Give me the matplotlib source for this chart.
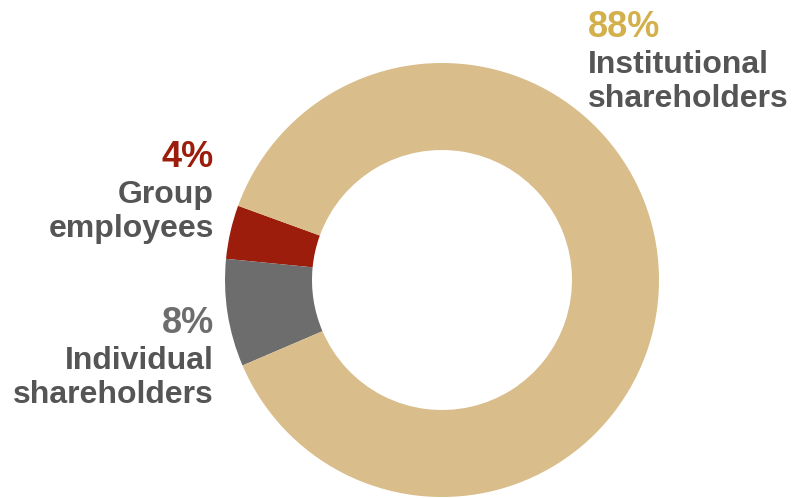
import matplotlib
matplotlib.use("Agg")
import matplotlib.pyplot as plt

# shareholder structure
labels = ["Group\nemployees", "Individual\nshareholders", "Institutional\nshareholders"]
shares = [4, 8, 88]
colors = ["#9C1D0B", "#6D6D6D", "#D9BD8A"]
pct_colors = ["#9C1D0B", "#6D6D6D", "#D4B04C"]
TEXT_GREY = "#555555"

plt.rcParams["font.family"] = ["Liberation Sans", "DejaVu Sans"]

W, H = 794, 498
fig = plt.figure(figsize=(W / 100, H / 100), dpi=100)
ax = fig.add_axes([0, 0, 1, 1])

ax.pie(shares, colors=colors, startangle=160, counterclock=True,
       center=(442, 218), radius=217,
       wedgeprops=dict(width=87, linewidth=0))
ax.set_xlim(0, W)
ax.set_ylim(0, H)
ax.set_aspect("equal")
ax.axis("off")

# label anchors: x, baseline of the percent line (pixels from top), alignment
anchors = [(214, 167, "right"),
           (214, 333, "right"),
           (588, 37, "left")]
LINE = 34
for (x, y, ha), lab, val, pc in zip(anchors, labels, shares, pct_colors):
    ax.text(x, H - y, f"{val}%", ha=ha, va="baseline", fontsize=26,
            fontweight="bold", color=pc)
    for i, line in enumerate(lab.split("\n")):
        ax.text(x, H - (y + 36 + i * LINE), line, ha=ha, va="baseline",
                fontsize=23, fontweight="bold", color=TEXT_GREY)

fig.savefig("out.png", dpi=100)
